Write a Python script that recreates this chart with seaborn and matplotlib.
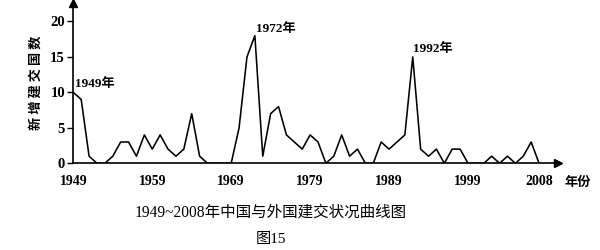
import matplotlib
matplotlib.use("Agg")
import matplotlib.pyplot as plt
import seaborn as sns
import pandas as pd

# ---- data ----
years = list(range(1949, 2009))
new_ties = [10, 9, 1, 0, 0, 1, 3, 3, 1, 4, 2, 4, 2, 1, 2, 7, 1, 0, 0, 0,
            0, 5, 15, 18, 1, 7, 8, 4, 3, 2, 4, 3, 0, 1, 4, 1, 2, 0, 0, 3,
            2, 3, 4, 15, 2, 1, 2, 0, 2, 2, 0, 0, 0, 1, 0, 1, 0, 1, 3, 0]
x_ticks = [1949, 1959, 1969, 1979, 1989, 1999, 2008]
y_ticks = [0, 5, 10, 15, 20]
peak_years = [1949, 1972, 1992]
peak_labels = ["1949年", "1972年", "1992年"]
title = "1949~2008年中国与外国建交状况曲线图"
fig_label = "图15"
y_label = "新 增 建 交 国 数"
x_label = "年份"

sns.set_theme(style="white")
SERIF = ["Liberation Serif", "Noto Sans CJK SC"]
CJK = ["Noto Sans CJK SC", "DejaVu Sans"]
plt.rcParams["font.family"] = SERIF

df = pd.DataFrame({"year": years, "count": new_ties})

fig = plt.figure(figsize=(6, 2.5), dpi=100)
ax = fig.add_axes([73.3 / 600, 86.7 / 250, 484.7 / 600, 160.3 / 250])
sns.lineplot(data=df, x="year", y="count", ax=ax, color="black",
             linewidth=1.15)

ax.set_xlim(1949, 2010.4)
ax.set_ylim(0, 22.6)
for s in ["top", "right"]:
    ax.spines[s].set_visible(False)
for s in ["left", "bottom"]:
    ax.spines[s].set_color("black")
    ax.spines[s].set_linewidth(1.2)
    ax.spines[s].set_zorder(3)

# axis arrows
ax.plot(1, 0, ">", color="black", markersize=6, transform=ax.transAxes,
        clip_on=False)
ax.plot(0, 1, "^", color="black", markersize=6, transform=ax.transAxes,
        clip_on=False)

ax.set_xticks(x_ticks)
ax.set_xticklabels([str(t) for t in x_ticks])
ax.set_yticks(y_ticks)
ax.set_yticklabels([str(t) for t in y_ticks])
ax.tick_params(axis="x", direction="in", length=5, width=1, color="black",
               pad=8.5, labelsize=10, labelcolor="black")
ax.tick_params(axis="y", direction="out", length=4, width=1, color="black",
               pad=2, labelsize=10.5, labelcolor="black", left=True)
for lab in ax.get_xticklabels() + ax.get_yticklabels():
    lab.set_fontweight("bold")
    lab.set_family(SERIF)

ax.set_ylabel(y_label, family=CJK, fontsize=9.5, fontweight="bold",
              color="black")
ax.yaxis.set_label_coords(-0.064, 0.5)
ax.set_xlabel(x_label, family=CJK, fontsize=9.5, fontweight="bold",
              color="black")
ax.xaxis.set_label_coords(1.04, -0.072)

offsets = [(1.2, 6), (0.5, 4.5), (0.3, 6)]
for yr, lab, off in zip(peak_years, peak_labels, offsets):
    val = new_ties[years.index(yr)]
    ax.annotate(lab, xy=(yr, val), xytext=off, textcoords="offset points",
                ha="left", va="center", fontsize=9.5, fontweight="bold",
                family=SERIF, color="black")

fig.text(271 / 600, 1 - 213 / 250, title, ha="center", va="center",
         fontsize=11.2, family=SERIF, color="black")
fig.text(271 / 600, 1 - 240 / 250, fig_label, ha="center", va="center",
         fontsize=11, family=SERIF, color="black")

fig.savefig("out.png", dpi=100)
